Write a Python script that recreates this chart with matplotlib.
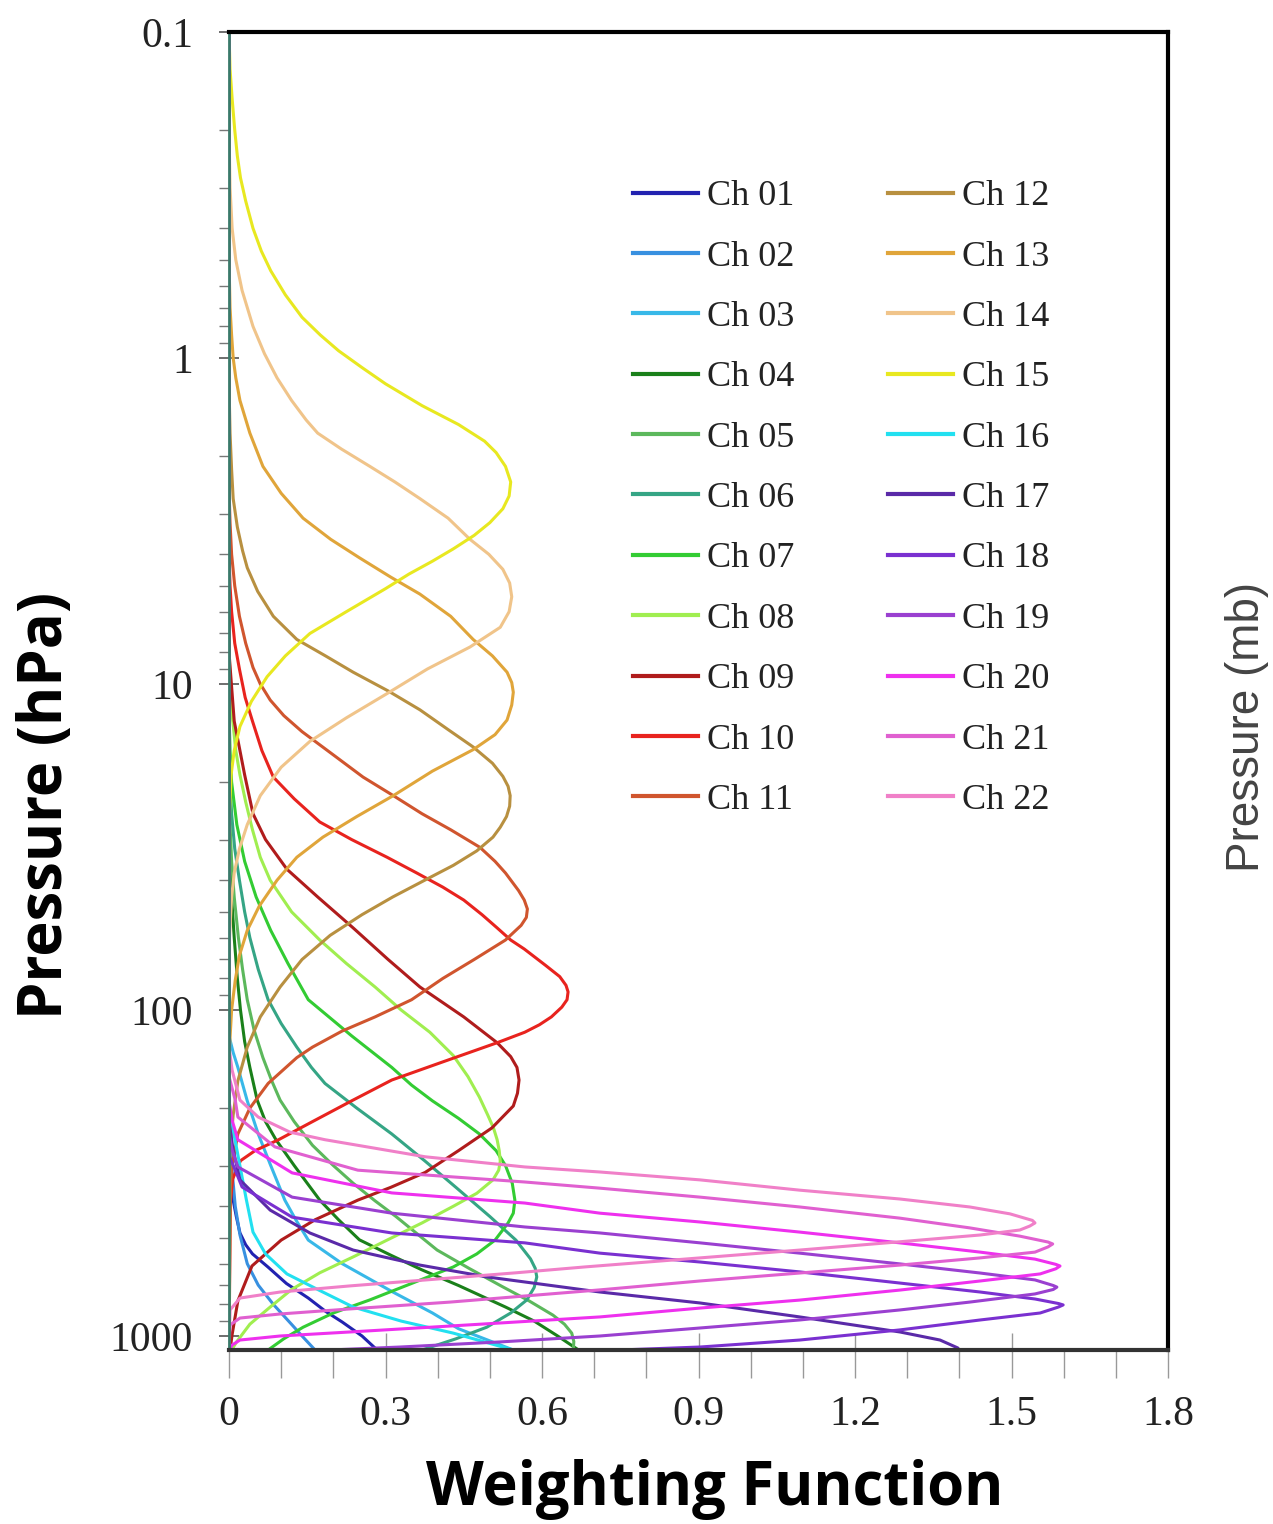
import matplotlib
matplotlib.use("Agg")
import matplotlib.pyplot as plt
from matplotlib.ticker import LogLocator, NullFormatter, MultipleLocator

# Legend names and colours
channels = ["Ch %02d" % i for i in range(1, 23)]
colors = ["#2222b0", "#3890e0", "#38b8e8", "#1a801a", "#5cb85c", "#35a585",
          "#33cc33", "#a0ee50", "#b01c1c", "#e8231e", "#d0552e", "#b89040",
          "#e0a53a", "#f0c48a", "#e8e820", "#22e0f0", "#5a2aa8", "#7a30d0",
          "#9a40d0", "#ee30ee", "#e060d0", "#f080c8"]

# Weighting function profiles: pressure (hPa) and weight
ch01_p = [0.1, 250, 320, 383, 430, 483, 525, 560, 615, 690, 765, 840, 906, 1000, 1104]
ch01_w = [0, 0, 0.003, 0.008, 0.014, 0.021, 0.032, 0.045, 0.075, 0.11, 0.152, 0.185, 0.217, 0.255, 0.284]

ch02_p = [0.1, 180, 300, 400, 490, 600, 698, 800, 925, 1000, 1104]
ch02_w = [0, 0, 0.005, 0.012, 0.021, 0.035, 0.056, 0.085, 0.121, 0.14, 0.165]

ch03_p = [0.1, 120, 135, 150, 190, 240, 300, 383, 440, 508, 600, 730, 850, 950, 1104]
ch03_w = [0, 0, 0.008, 0.017, 0.035, 0.056, 0.08, 0.107, 0.128, 0.152, 0.217, 0.312, 0.39, 0.44, 0.545]

ch04_p = [0.1, 30, 45, 60, 80, 100, 125, 150, 189, 220, 250, 300, 340, 383, 440, 507, 565, 627,
          700, 815, 900, 1000, 1104]
ch04_w = [0, 0, 0.005, 0.01, 0.016, 0.022, 0.03, 0.04, 0.054, 0.07, 0.09, 0.125, 0.15, 0.174, 0.21,
          0.25, 0.31, 0.37, 0.44, 0.53, 0.585, 0.63, 0.67]

ch05_p = [0.1, 20, 27, 35, 45, 60, 75, 93, 115, 140, 165, 189, 220, 260, 300, 340, 385, 430, 485,
          545, 620, 707, 780, 863, 920, 980, 1040, 1104]
ch05_w = [0, 0, 0.002, 0.005, 0.01, 0.018, 0.026, 0.035, 0.048, 0.065, 0.082, 0.098, 0.125, 0.16,
          0.2, 0.238, 0.28, 0.32, 0.36, 0.399, 0.46, 0.525, 0.575, 0.621, 0.643, 0.657, 0.661, 0.66]

ch06_p = [0.1, 15, 20, 25, 32, 40, 50, 60, 75, 93, 110, 130, 150, 168, 200, 240, 290, 350, 430,
          508, 580, 620, 659, 710, 775, 850, 940, 1020, 1104]
ch06_w = [0, 0, 0.002, 0.005, 0.011, 0.02, 0.03, 0.04, 0.056, 0.075, 0.1, 0.13, 0.158, 0.184,
          0.245, 0.312, 0.375, 0.435, 0.50, 0.55, 0.578, 0.587, 0.59, 0.585, 0.571, 0.54, 0.494,
          0.435, 0.37]

ch07_p = [0.1, 12, 16, 20, 27, 35, 45, 57, 72, 93, 120, 150, 170, 190, 215, 240, 270, 300, 340,
          383, 420, 450, 508, 560, 614, 690, 775, 850, 940, 1020, 1104]
ch07_w = [0, 0, 0.002, 0.005, 0.015, 0.03, 0.052, 0.08, 0.113, 0.152, 0.235, 0.312, 0.35, 0.39,
          0.44, 0.48, 0.512, 0.53, 0.543, 0.548, 0.545, 0.535, 0.51, 0.475, 0.43, 0.35, 0.27, 0.2,
          0.142, 0.105, 0.075]

ch08_p = [0.1, 8, 12, 16, 19, 23, 28, 34, 40, 50, 61, 72, 85, 100, 117, 138, 160, 185, 210, 230,
          250, 270, 291, 310, 332, 365, 400, 450, 508, 570, 640, 720, 815, 920, 1040, 1104]
ch08_w = [0, 0, 0.005, 0.013, 0.021, 0.032, 0.045, 0.06, 0.079, 0.12, 0.174, 0.225, 0.28, 0.33,
          0.385, 0.43, 0.458, 0.48, 0.496, 0.507, 0.514, 0.518, 0.52, 0.517, 0.506, 0.475, 0.43,
          0.37, 0.303, 0.24, 0.174, 0.12, 0.079, 0.04, 0.015, 0.005]

ch09_p = [0.1, 8, 13, 19, 25, 30, 37, 45, 56, 70, 85, 105, 126, 139, 150, 164, 180, 197, 230,
          270, 315, 350, 383, 440, 508, 610, 780, 990, 1104]
ch09_w = [0, 0, 0.01, 0.03, 0.046, 0.07, 0.111, 0.17, 0.238, 0.305, 0.366, 0.45, 0.514, 0.54,
          0.552, 0.556, 0.553, 0.545, 0.504, 0.44, 0.376, 0.31, 0.247, 0.165, 0.10, 0.044, 0.017,
          0.006, 0.002]

ch10_p = [0.1, 4, 5, 6, 7.5, 9, 11, 13, 16, 19.3, 22.5, 26.5, 30, 34, 38, 42, 46, 51, 56, 61, 65,
          73, 79, 84, 88, 93, 98, 105, 111, 117, 126, 145, 164, 190, 220, 250, 270, 290, 330,
          400, 1104]
ch10_w = [0, 0, 0.002, 0.005, 0.011, 0.02, 0.031, 0.045, 0.063, 0.085, 0.125, 0.174, 0.235, 0.303,
          0.36, 0.41, 0.45, 0.485, 0.514, 0.54, 0.566, 0.607, 0.634, 0.646, 0.65, 0.648, 0.638,
          0.618, 0.595, 0.567, 0.514, 0.406, 0.312, 0.235, 0.16, 0.095, 0.05, 0.022, 0.007,
          0.002, 0]

ch11_p = [0.1, 2.5, 3.2, 4, 5, 6.2, 7.5, 8.9, 10, 11.2, 12.5, 14, 16.5, 19.3, 22, 25, 28, 31.7,
          35, 38, 43, 46, 49, 52, 55, 61, 70, 80, 93, 105, 116, 130, 140, 168, 200, 240, 300,
          350, 1104]
ch11_w = [0, 0, 0.002, 0.005, 0.011, 0.02, 0.032, 0.046, 0.06, 0.079, 0.105, 0.14, 0.2, 0.257,
          0.315, 0.37, 0.425, 0.481, 0.51, 0.53, 0.555, 0.566, 0.572, 0.57, 0.56, 0.53, 0.47,
          0.41, 0.35, 0.28, 0.217, 0.16, 0.13, 0.075, 0.04, 0.017, 0.006, 0.003, 0]

ch12_p = [0.1, 1.2, 1.7, 2.2, 2.7, 3.3, 3.9, 4.4, 5.2, 6.2, 7.3, 8.2, 9.2, 10.5, 12, 13.8, 15.6,
          17.5, 19.2, 20.6, 22, 23.7, 25.5, 27.5, 29.5, 32.5, 36, 40, 45, 51, 59, 70, 85, 105,
          130, 165, 210, 270, 1104]
ch12_w = [0, 0, 0.002, 0.005, 0.008, 0.016, 0.026, 0.035, 0.055, 0.085, 0.13, 0.185, 0.238, 0.305,
          0.366, 0.42, 0.468, 0.505, 0.525, 0.535, 0.539, 0.538, 0.532, 0.52, 0.506, 0.475, 0.43,
          0.375, 0.314, 0.255, 0.194, 0.14, 0.098, 0.06, 0.035, 0.017, 0.008, 0.002, 0]

ch13_p = [0.1, 0.5, 0.7, 0.85, 1.0, 1.15, 1.35, 1.7, 2.15, 2.6, 3.1, 3.6, 4.1, 4.7, 5.3, 6.2, 7.3,
          8.2, 9.2, 9.9, 10.6, 11.6, 12.9, 14.3, 15.9, 18.5, 22, 25.5, 29.5, 34, 40, 48, 57, 68,
          81, 100, 130, 1104]
ch13_w = [0, 0, 0.002, 0.005, 0.008, 0.013, 0.021, 0.04, 0.065, 0.1, 0.142, 0.195, 0.25, 0.31,
          0.366, 0.425, 0.468, 0.505, 0.533, 0.542, 0.545, 0.542, 0.533, 0.51, 0.468, 0.39, 0.315,
          0.245, 0.18, 0.13, 0.092, 0.058, 0.035, 0.02, 0.012, 0.005, 0.001, 0]

ch14_p = [0.1, 0.2, 0.3, 0.4, 0.5, 0.62, 0.8, 0.97, 1.15, 1.35, 1.55, 1.7, 1.9, 2.15, 2.4, 2.7,
          3.1, 3.6, 4.0, 4.45, 4.9, 5.4, 6.0, 6.7, 7.7, 9.0, 10.7, 12.7, 15, 18, 22, 27, 32, 38,
          45, 60, 1104]
ch14_w = [0, 0, 0.002, 0.006, 0.013, 0.025, 0.046, 0.068, 0.092, 0.12, 0.148, 0.17, 0.215, 0.27,
          0.318, 0.366, 0.42, 0.462, 0.498, 0.525, 0.538, 0.542, 0.537, 0.52, 0.462, 0.38, 0.303,
          0.225, 0.155, 0.10, 0.06, 0.035, 0.02, 0.01, 0.005, 0.001, 0]

ch15_p = [0.1, 0.13, 0.16, 0.2, 0.24, 0.28, 0.33, 0.4, 0.47, 0.54, 0.64, 0.75, 0.85, 0.95, 1.07,
          1.2, 1.4, 1.6, 1.8, 1.95, 2.15, 2.4, 2.65, 2.9, 3.2, 3.5, 3.85, 4.2, 4.6, 5.1, 6.0, 7.0,
          8.2, 9.5, 11.3, 13.5, 16, 19, 25, 1104]
ch15_w = [0, 0.002, 0.006, 0.011, 0.016, 0.022, 0.032, 0.046, 0.062, 0.08, 0.108, 0.14, 0.175,
          0.21, 0.255, 0.30, 0.37, 0.44, 0.49, 0.512, 0.53, 0.54, 0.537, 0.525, 0.50, 0.47, 0.43,
          0.39, 0.345, 0.30, 0.225, 0.155, 0.108, 0.073, 0.043, 0.021, 0.01, 0.004, 0.001, 0]

ch16_p = [0.1, 200, 295, 380, 480, 560, 645, 720, 815, 900, 980, 1104]
ch16_w = [0, 0, 0.02, 0.033, 0.046, 0.07, 0.111, 0.17, 0.238, 0.33, 0.43, 0.545]

ch17_p = [0.1, 220, 269, 332, 411, 483, 545, 606, 659, 733, 792, 874, 972, 1029, 1088, 1104]
ch17_w = [0, 0, 0.008, 0.021, 0.079, 0.155, 0.238, 0.366, 0.495, 0.711, 0.903, 1.094, 1.286,
          1.363, 1.397, 1.40]

ch18_p = [0.1, 280, 310, 349, 432, 483, 518, 557, 593, 636, 688, 733, 770, 795, 803,
          815, 850, 893, 958, 1029, 1081, 1104]
ch18_w = [0, 0, 0.012, 0.025, 0.121, 0.312, 0.567, 0.711, 0.903, 1.094, 1.286, 1.44, 1.545, 1.59,
          1.599, 1.59, 1.555, 1.44, 1.286, 1.094, 0.903, 0.749]

ch19_p = [0.1, 240, 269, 303, 375, 420, 463, 483, 518, 557, 601, 641, 673, 700, 708,
          720, 743, 787, 832, 893, 945, 1000, 1043, 1081, 1104]
ch19_w = [0, 0, 0.006, 0.017, 0.121, 0.312, 0.567, 0.711, 0.903, 1.094, 1.286, 1.44, 1.545, 1.58,
          1.587, 1.58, 1.545, 1.42, 1.286, 1.094, 0.903, 0.711, 0.519, 0.328, 0.194]

ch20_p = [0.1, 190, 218, 250, 316, 364, 391, 420, 447, 480, 518, 553, 581, 603, 610,
          622, 645, 678, 723, 776, 821, 874, 932, 972, 1000, 1029, 1066, 1104]
ch20_w = [0, 0, 0.006, 0.017, 0.121, 0.312, 0.567, 0.711, 0.903, 1.094, 1.286, 1.44, 1.545, 1.585,
          1.593, 1.585, 1.555, 1.44, 1.286, 1.094, 0.903, 0.711, 0.424, 0.232, 0.098, 0.021,
          0.006, 0]

ch21_p = [0.1, 160, 189, 213, 263, 310, 337, 352, 375, 402, 435, 466, 494, 515, 522,
          533, 553, 576, 606, 641, 678, 722, 787, 826, 856, 881, 925, 1104]
ch21_w = [0, 0, 0.012, 0.017, 0.088, 0.247, 0.567, 0.711, 0.903, 1.094, 1.286, 1.42, 1.516, 1.57,
          1.579, 1.57, 1.545, 1.44, 1.286, 1.094, 0.903, 0.711, 0.424, 0.232, 0.098, 0.021,
          0.002, 0]

ch22_p = [0.1, 130, 153, 189, 213, 237, 250, 282, 303, 314, 332, 357, 380, 402, 422, 442, 450,
          460, 473, 490, 514, 545, 576, 614, 640, 664, 702, 733, 765, 832, 1104]
ch22_w = [0, 0, 0.006, 0.021, 0.056, 0.117, 0.184, 0.376, 0.567, 0.711, 0.903, 1.094, 1.286,
          1.42, 1.497, 1.54, 1.545, 1.535, 1.516, 1.44, 1.286, 1.094, 0.903, 0.682, 0.55, 0.424,
          0.232, 0.098, 0.021, 0.002, 0]

profiles = [(ch01_w, ch01_p), (ch02_w, ch02_p), (ch03_w, ch03_p), (ch04_w, ch04_p),
            (ch05_w, ch05_p), (ch06_w, ch06_p), (ch07_w, ch07_p), (ch08_w, ch08_p),
            (ch09_w, ch09_p), (ch10_w, ch10_p), (ch11_w, ch11_p), (ch12_w, ch12_p),
            (ch13_w, ch13_p), (ch14_w, ch14_p), (ch15_w, ch15_p), (ch16_w, ch16_p),
            (ch17_w, ch17_p), (ch18_w, ch18_p), (ch19_w, ch19_p), (ch20_w, ch20_p),
            (ch21_w, ch21_p), (ch22_w, ch22_p)]

x_ticks = [0, 0.3, 0.6, 0.9, 1.2, 1.5, 1.8]
x_labels = ["0", "0.3", "0.6", "0.9", "1.2", "1.5", "1.8"]
y_ticks = [0.1, 1, 10, 100, 1000]
y_labels = ["0.1", "1", "10", "100", "1000"]

W, H = 1273, 1524
fig = plt.figure(figsize=(W / 100, H / 100), dpi=100)
ax = fig.add_axes([229 / W, 1 - 1350 / H, 939 / W, 1318 / H])

for (w, p), name, c in zip(profiles, channels, colors):
    ax.plot(w, p, color=c, lw=2.2, label=name, solid_joinstyle="round")

ax.set_yscale("log")
ax.set_ylim(1104, 0.1)
ax.set_xlim(0, 1.8)

ax.set_yticks(y_ticks)
ax.set_yticklabels(y_labels)
ax.yaxis.set_minor_locator(LogLocator(base=10, subs=range(2, 10)))
ax.yaxis.set_minor_formatter(NullFormatter())
ax.set_xticks(x_ticks)
ax.set_xticklabels(x_labels)
ax.xaxis.set_minor_locator(MultipleLocator(0.1))

ax.tick_params(axis="y", which="major", direction="inout", length=14, width=1.2,
               color="#555555", pad=19, labelsize=30)
ax.tick_params(axis="y", which="minor", direction="out", length=7, width=1.0, color="#777777")
ax.tick_params(axis="x", which="both", direction="out", length=20, width=1.0,
               color="#999999", pad=13, labelsize=30)

# short inward marks at the labelled x positions
sec = ax.secondary_xaxis("bottom")
sec.set_xticks(x_ticks)
sec.set_xticklabels([])
sec.tick_params(direction="in", length=12, width=1.0, color="#999999")
sec.spines["bottom"].set_visible(False)

for lab in ax.get_xticklabels() + ax.get_yticklabels():
    lab.set_fontfamily("Liberation Serif")
    lab.set_color("#222222")

for side in ["top", "right"]:
    ax.spines[side].set_linewidth(3)
    ax.spines[side].set_color("black")
ax.spines["bottom"].set_linewidth(3)
ax.spines["bottom"].set_color("#333333")
ax.spines["left"].set_linewidth(2)
ax.spines["left"].set_color("#3a7a6a")

leg = ax.legend(ncol=2, loc="upper left", bbox_to_anchor=((633 - 229) / 939, (1350 - 180) / 1318),
                frameon=False, prop={"family": "Liberation Serif", "size": 26},
                handlelength=1.8, handletextpad=0.25, columnspacing=2.6,
                labelspacing=0.75, borderpad=0, borderaxespad=0)
for line in leg.get_lines():
    line.set_linewidth(3)
for t in leg.get_texts():
    t.set_color("#222222")

fig.text(715 / W, 1 - 1490 / H, "Weighting Function", ha="center", va="center",
         fontsize=43, fontweight="bold", family="Open Sans")
fig.text(47 / W, 1 - 805 / H, "Pressure (hPa)", ha="center", va="center", rotation=90,
         fontsize=43, fontweight="bold", family="Open Sans")
fig.text(1247 / W, 1 - 727 / H, "Pressure (mb)", ha="center", va="center", rotation=90,
         fontsize=33, color="#444444", family="Liberation Sans")

fig.savefig("out.png", dpi=100)
